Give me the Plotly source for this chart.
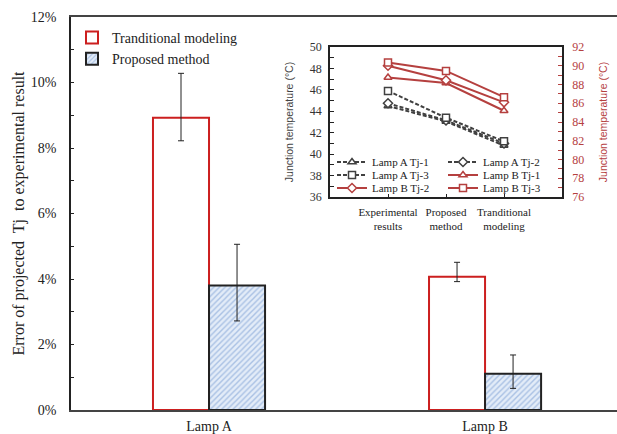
import plotly.graph_objects as go

# ---- main bar chart data (percent) ----
lamps = ["Lamp A", "Lamp B"]
trad_err = [8.92, 4.07]
trad_plus = [1.36, 0.44]
trad_minus = [0.70, 0.15]
prop_err = [3.80, 1.11]
prop_plus = [1.26, 0.57]
prop_minus = [1.08, 0.45]

# ---- inset data ----
stages = ["Experimental<br>results", "Proposed<br>method", "Tranditional<br>modeling"]
lampA_tj1 = [44.5, 43.05, 40.8]
lampA_tj2 = [44.75, 43.15, 41.0]
lampA_tj3 = [45.9, 43.4, 41.2]
lampB_tj1 = [88.75, 88.15, 85.2]
lampB_tj2 = [90.0, 88.45, 86.1]
lampB_tj3 = [90.35, 89.45, 86.65]

SERIF = "Liberation Serif"
RED = "#b5403f"
GRAY = "#404040"

fig = go.Figure()

fig.add_trace(go.Bar(
    x=lamps, y=trad_err, name="Tranditional modeling",
    marker=dict(color="white", line=dict(color="#cc1f1f", width=2)),
    error_y=dict(type="data", symmetric=False, array=trad_plus, arrayminus=trad_minus,
                 color="#222", thickness=1, width=3),
    legend="legend",
))
fig.add_trace(go.Bar(
    x=lamps, y=prop_err, name="Proposed method",
    marker=dict(color="#dfe9f7", line=dict(color="#222", width=2),
                pattern=dict(shape="/", fgcolor="#6f96cf", bgcolor="#e3ecf8", size=4, solidity=0.35)),
    error_y=dict(type="data", symmetric=False, array=prop_plus, arrayminus=prop_minus,
                 color="#222", thickness=1, width=3),
    legend="legend",
))

dashA = "4px,2px"
def a_trace(y, name, sym, leg):
    return go.Scatter(x=stages, y=y, name=name, mode="lines+markers",
                      line=dict(color=GRAY, width=2, dash=dashA),
                      marker=dict(symbol=sym, size=7, color="white", line=dict(color=GRAY, width=1.5)),
                      xaxis="x2", yaxis="y2", legend=leg)

def b_trace(y, name, sym, leg):
    return go.Scatter(x=stages, y=y, name=name, mode="lines+markers",
                      line=dict(color=RED, width=2),
                      marker=dict(symbol=sym, size=7, color="white", line=dict(color=RED, width=1.5)),
                      xaxis="x2", yaxis="y3", legend=leg)

fig.add_trace(a_trace(lampA_tj1, "Lamp A Tj-1", "triangle-up", "legend2"))
fig.add_trace(a_trace(lampA_tj2, "Lamp A Tj-2", "diamond", "legend2"))
fig.add_trace(a_trace(lampA_tj3, "Lamp A Tj-3", "square", "legend3"))
fig.add_trace(b_trace(lampB_tj1, "Lamp B Tj-1", "triangle-up", "legend3"))
fig.add_trace(b_trace(lampB_tj2, "Lamp B Tj-2", "diamond", "legend4"))
fig.add_trace(b_trace(lampB_tj3, "Lamp B Tj-3", "square", "legend4"))

W, H = 617, 434
L, R, T, B = 71, 0, 17, 24
pw, ph = W - L - R, H - T - B

def px(x):
    return (x - L) / pw

def py(y):
    return (H - B - y) / ph

inset_leg = dict(orientation="h", entrywidth=66, entrywidthmode="pixels",
                 font=dict(family=SERIF, size=11, color="#222"),
                 bgcolor="rgba(0,0,0,0)", borderwidth=0, xanchor="left", yanchor="middle")

fig.update_layout(
    width=W, height=H,
    margin=dict(l=L, r=R, t=T, b=B),
    paper_bgcolor="white", plot_bgcolor="rgba(0,0,0,0)",
    font=dict(family=SERIF, size=14, color="#222"),
    barmode="group", bargap=0.594, bargroupgap=0,
    showlegend=True,
    legend=dict(x=px(72), y=py(22), xanchor="left", yanchor="top",
                font=dict(family=SERIF, size=14, color="#222"),
                bgcolor="rgba(0,0,0,0)", tracegroupgap=0),
    legend2=dict(inset_leg, x=px(332), y=py(162)),
    legend3=dict(inset_leg, x=px(332), y=py(175)),
    legend4=dict(inset_leg, x=px(332), y=py(188)),
    xaxis=dict(range=[-0.5, 1.478], showline=True, linecolor="#444", linewidth=2, mirror=True,
               ticks="", showgrid=False, zeroline=False, automargin=False,
               tickfont=dict(family=SERIF, size=14, color="#222"), ticklabelstandoff=2),
    yaxis=dict(range=[0, 12], dtick=2, ticksuffix="%", showline=True, linecolor="#222", linewidth=1.5,
               ticks="inside", ticklen=3, tickcolor="#222", showgrid=False, zeroline=False,
               automargin=False,
               minor=dict(dtick=1, ticks="inside", ticklen=3, tickcolor="#222"),
               tickfont=dict(family=SERIF, size=14, color="#222"), ticklabelstandoff=10,
               title=dict(text="Error of projected  Tj  to experimental result",
                          font=dict(family=SERIF, size=16, color="#222"), standoff=2)),
    xaxis2=dict(domain=[px(330), px(562)], anchor="y2", range=[-1, 3],
                showline=True, linecolor="#222", linewidth=1.5, mirror=True,
                ticks="inside", ticklen=3, tickcolor="#222", showgrid=False, zeroline=False,
                automargin=False, ticklabelstandoff=4,
                tickfont=dict(family=SERIF, size=11, color="#222")),
    yaxis2=dict(domain=[py(197), py(47)], anchor="x2", range=[36, 50], dtick=2,
                showline=True, linecolor="#222", linewidth=1.5, mirror=True,
                ticks="inside", ticklen=4, tickcolor="#222", showgrid=False, zeroline=False,
                automargin=False,
                minor=dict(dtick=1, ticks="inside", ticklen=4, tickcolor="#222"),
                tickfont=dict(family=SERIF, size=12, color="#333"), ticklabelstandoff=4,
                title=dict(text="Junction temperature (°C)",
                           font=dict(family="Liberation Sans", size=10.5, color="#444"), standoff=14)),
    yaxis3=dict(overlaying="y2", side="right", anchor="x2", range=[76, 92], dtick=2,
                showline=True, linecolor="#222", linewidth=1.5,
                ticks="inside", ticklen=4, tickcolor=RED, showgrid=False, zeroline=False,
                automargin=False,
                minor=dict(dtick=1, ticks="inside", ticklen=4, tickcolor=RED),
                tickfont=dict(family=SERIF, size=12, color=RED), ticklabelstandoff=6,
                title=dict(text="Junction temperature (°C)",
                           font=dict(family="Liberation Sans", size=10.5, color=RED), standoff=16)),
)

fig.write_html("out.html", config={"displayModeBar": False},
               post_script="document.body.style.margin='0';document.body.style.overflow='hidden';")
